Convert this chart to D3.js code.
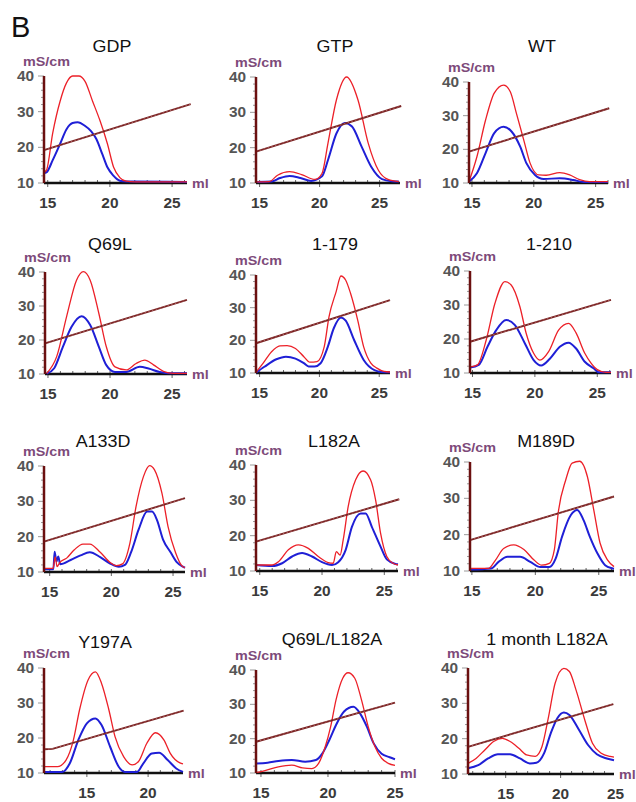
<!DOCTYPE html>
<html>
<head>
<meta charset="utf-8">
<script src="https://cdn.jsdelivr.net/npm/d3@7"></script>
<style>
  body { margin: 0; background: #fff; }
  text { font-family: "Liberation Sans", Arial, sans-serif; }
</style>
</head>
<body>
<div id="chart"></div>
<script>
// panel names, in reading order
const titles = ['GDP', 'GTP', 'WT', 'Q69L', '1-179', '1-210',
  'A133D', 'L182A', 'M189D', 'Y197A', 'Q69L/L182A', '1 month L182A'];

// x range (ml) of each panel
const xDomains = [
  [14.7, 26.2], [14.7, 26.7], [14.76, 26.0],
  [14.76, 26.2], [14.7, 25.9], [14.8, 26.1],
  [14.54, 25.97], [14.7, 26.1], [14.85, 26.2],
  [11.5, 22.85], [14.63, 25], [11.57, 24.86]
];

const xTickValues = [
  [15, 20, 25], [15, 20, 25], [15, 20, 25],
  [15, 20, 25], [15, 20, 25], [15, 20, 25],
  [15, 20, 25], [15, 20, 25], [15, 20, 25],
  [15, 20], [15, 20, 25], [15, 20, 25]
];
const yTickValues = [10, 20, 30, 40];

// conductivity gradient, [ml, mS/cm]
const gradients = [
  [[14.7, 19.2], [26.5, 32.1]],
  [[14.7, 18.9], [26.8, 31.8]],
  [[14.76, 19.3], [26.1, 32.2]],
  [[14.76, 19.0], [26.2, 31.8]],
  [[14.7, 19.1], [25.9, 32.3]],
  [[14.8, 19.2], [26.1, 31.5]],
  [[14.54, 18.6], [25.97, 30.9]],
  [[14.7, 18.3], [26.2, 30.3]],
  [[14.85, 18.5], [26.2, 30.5]],
  [[11.5, 16.8], [12.2, 16.9], [22.9, 27.8]],
  [[14.63, 19.1], [25.0, 30.5]],
  [[11.57, 17.7], [24.8, 29.8]]
];

// red trace
const redCurves = [
  [[14.7, 13], [14.9, 13.6], [15.4, 24], [16, 33], [16.5, 38], [17, 40], [17.5, 40], [18, 38.5], [18.6, 33], [19.2, 27.5], [19.8, 21], [20.3, 14.4], [20.8, 11.5], [21.3, 10.5], [22, 10.3], [26.2, 10.3]],
  [[14.7, 10.3], [15.8, 10.4], [16.5, 12.2], [17.5, 13.2], [18.5, 12.4], [19.6, 11.0], [20.2, 12.7], [20.7, 21.3], [21.4, 33.5], [22.25, 40], [23.2, 33.5], [24.05, 21.3], [24.9, 13.6], [25.7, 11], [26.6, 10.4]],
  [[14.76, 10.4], [15.4, 17.8], [16.1, 28.7], [16.8, 36.7], [17.56, 39.1], [18.1, 37.1], [18.6, 30.6], [19.2, 22.6], [19.7, 15.9], [20.4, 12.4], [21, 12.3], [22.1, 13.1], [22.9, 12.4], [23.7, 11], [24.5, 10.4], [26, 10.4]],
  [[14.9, 10.2], [15.7, 15.1], [16.5, 26.9], [17.3, 37.6], [17.85, 40.1], [18.4, 37.6], [19.1, 27.8], [19.7, 18], [20.4, 12.1], [21.3, 11.2], [22.1, 13.1], [22.8, 14.1], [23.5, 12.7], [24.3, 10.8], [25.1, 10.2], [26.2, 10.2]],
  [[14.7, 10.2], [15.3, 13], [16, 16.5], [16.7, 18.3], [17.3, 18.4], [18, 17.5], [18.7, 15], [19.2, 13.3], [19.8, 13.5], [20.4, 18], [20.8, 27.2], [21.4, 34.9], [21.8, 39.7], [22.2, 38.4], [22.6, 34.4], [23.2, 26.2], [23.7, 18], [24.3, 13], [24.8, 11.5], [25.4, 10.5], [25.9, 10.3]],
  [[14.8, 11.8], [15.4, 12.4], [16.1, 19.7], [16.8, 30.5], [17.6, 36.9], [18.1, 35.9], [18.8, 29.5], [19.3, 21.7], [19.9, 15.8], [20.4, 13.8], [21.1, 16.3], [21.9, 22.6], [22.7, 24.6], [23.3, 21.8], [24, 15.8], [24.5, 12.9], [25, 11], [25.7, 10.2], [26.1, 10.2]],
  [[14.54, 11], [15.27, 11], [15.45, 14.3], [15.6, 11.5], [15.8, 12.6], [16.4, 14], [17, 16.3], [17.7, 17.9], [18.25, 17.9], [19.1, 15.6], [19.9, 12.7], [20.4, 11.8], [20.9, 12.3], [21.5, 18.1], [22.0, 28.5], [22.6, 37], [23.1, 40.1], [23.5, 38.9], [24.1, 32.3], [24.6, 22.8], [25.2, 15.5], [25.7, 11.8], [25.97, 11.2]],
  [[14.7, 11.7], [16.0, 11.7], [16.5, 12.6], [17.3, 16], [18.1, 17.4], [18.9, 16.4], [19.7, 14.1], [20.5, 12.4], [20.9, 12.2], [21.15, 15.5], [21.45, 14.5], [21.7, 18.8], [22.1, 28.2], [22.7, 35.8], [23.3, 38.3], [23.9, 35.8], [24.3, 30.1], [24.7, 20.7], [25.2, 14.1], [25.7, 12.2], [26.1, 11.7]],
  [[14.85, 10.7], [16.3, 10.7], [16.86, 13], [17.5, 16.2], [18.3, 17.2], [19.1, 15.9], [19.9, 13], [20.5, 11.6], [21.1, 12.1], [21.5, 15.9], [21.8, 25.9], [22.4, 35.1], [22.9, 39.7], [23.5, 40.2], [24.1, 36], [24.6, 26.9], [25.1, 17.7], [25.7, 13], [26.2, 11.2]],
  [[11.5, 11.8], [12.6, 11.8], [13.3, 13.7], [13.9, 19.4], [14.4, 28], [15.1, 36.6], [15.7, 38.9], [16.2, 35.6], [16.8, 28], [17.3, 20.4], [18, 14.7], [18.7, 12.3], [19.2, 13.2], [19.9, 18.5], [20.6, 21.5], [21.3, 19.4], [21.8, 15.7], [22.6, 12.9], [22.85, 12.6]],
  [[14.63, 10.1], [15.3, 10.7], [16.3, 11.8], [17.3, 12.3], [18.1, 11.5], [18.8, 11.3], [19.3, 12.8], [19.8, 17.7], [20.2, 23.5], [20.6, 31.3], [21.1, 37.6], [21.5, 39.2], [22, 37.6], [22.5, 31.3], [23, 23.5], [23.5, 17.7], [24, 14.3], [24.5, 12.8], [25, 12.2]],
  [[11.57, 13], [12.3, 14.4], [13.1, 16.8], [13.9, 19.2], [14.7, 20.1], [15.4, 19.2], [16.2, 17.3], [16.9, 15.4], [17.7, 15], [18.3, 17.7], [18.9, 26.2], [19.5, 35.7], [20.3, 39.9], [20.8, 39], [21.4, 33.8], [22.2, 25.3], [22.9, 18.7], [23.7, 15.9], [24.5, 15], [24.86, 14.8]]
];

// blue trace
const blueCurves = [
  [[14.7, 12.8], [14.9, 13], [15.4, 16.4], [16, 21], [16.5, 25], [17, 26.8], [17.4, 27], [18, 26], [18.5, 24.5], [18.9, 22.4], [19.4, 18], [19.8, 14.4], [20.3, 12], [20.6, 11], [21, 10.5], [22, 10.4], [26.2, 10.3]],
  [[14.7, 10.3], [16.0, 10.4], [16.7, 11.4], [17.5, 12], [18.4, 11.4], [19.3, 10.6], [20.2, 11.9], [20.7, 16.5], [21.4, 24], [22.1, 27], [22.7, 26], [23.5, 20.3], [24.3, 14.6], [25.2, 11.1], [26, 10.5], [26.6, 10.4]],
  [[14.76, 10.4], [15.4, 12.9], [16.1, 18.9], [16.8, 24.8], [17.56, 26.7], [18.2, 25.3], [18.9, 20.8], [19.4, 15.9], [20.1, 12.4], [20.8, 11.2], [22.1, 11.4], [23.2, 10.9], [24, 10.3], [26, 10.3]],
  [[14.9, 10.1], [15.5, 11.7], [16.2, 18], [16.9, 23.9], [17.7, 27], [18.4, 24.4], [19.1, 18], [19.7, 12.6], [20.4, 10.6], [21.3, 10.6], [22.4, 12.1], [23.1, 11.6], [24, 10.6], [24.8, 10.2], [26.2, 10.2]],
  [[14.7, 10.1], [15.4, 11.9], [16.4, 14.2], [17.2, 15], [18, 14.4], [18.7, 13], [19.1, 12], [19.6, 12], [20.1, 13], [20.7, 18], [21.2, 23.7], [21.8, 27], [22.2, 26], [22.9, 20.1], [23.7, 14], [24.6, 10.9], [25.4, 10.2], [25.9, 10.2]],
  [[14.8, 11.6], [15.5, 12.4], [16.2, 17.7], [16.9, 22.6], [17.7, 25.6], [18.4, 24.1], [19.2, 18.7], [19.9, 13.8], [20.5, 12.2], [21.2, 14.2], [22, 17.7], [22.7, 18.9], [23.3, 17.2], [24, 13.3], [24.7, 11.4], [25.1, 10.2], [26.1, 10.2]],
  [[14.54, 10.8], [15.3, 10.8], [15.4, 15.7], [15.55, 13], [15.7, 14.4], [15.85, 12.2], [16.7, 13.4], [17.5, 14.7], [18.25, 15.6], [19.1, 14.2], [19.9, 12.4], [20.6, 11.5], [21.1, 12], [21.6, 15.6], [22.2, 21.9], [22.9, 27.1], [23.3, 27.1], [23.7, 24.7], [24.2, 19.1], [24.8, 15.6], [25.3, 12.8], [25.8, 11.5], [25.97, 11.2]],
  [[14.7, 11.7], [16.0, 11.4], [16.8, 12.2], [17.6, 14.1], [18.4, 15.1], [19.2, 14.1], [20, 12.5], [20.8, 11.7], [21.3, 12.5], [21.9, 16], [22.4, 22.5], [23.1, 26.3], [23.5, 26.3], [24, 22.5], [24.7, 16.9], [25.2, 13.3], [25.9, 12], [26.1, 11.9]],
  [[14.85, 10.4], [16.5, 10.7], [17.1, 12.5], [17.8, 13.9], [18.8, 13.9], [19.6, 12.5], [20.4, 11.1], [21.1, 11.1], [21.6, 13.4], [22.1, 19.4], [22.8, 25.4], [23.3, 26.8], [23.8, 24], [24.3, 19.4], [24.9, 14.8], [25.5, 11.6], [26.1, 10.7], [26.2, 10.6]],
  [[11.5, 10.3], [13.0, 10.3], [13.6, 12.7], [14.3, 19.4], [15, 24.2], [15.7, 25.6], [16.2, 23.7], [16.9, 17.5], [17.6, 11.8], [18.1, 10.3], [19.1, 10.3], [19.6, 12.7], [20.3, 15.6], [20.9, 15.8], [21.6, 13.7], [22.3, 11.3], [22.85, 10.3]],
  [[14.63, 12.8], [15.5, 13], [16.3, 13.5], [17.3, 13.8], [18.3, 13.3], [19.1, 13.8], [19.6, 15.8], [20.1, 19.6], [20.6, 24], [21.2, 27.9], [21.9, 29.3], [22.4, 27.3], [22.9, 23.5], [23.4, 18.7], [24, 15.6], [24.6, 14.6], [25, 14]],
  [[11.57, 11.6], [12.5, 12.5], [13.4, 14.4], [14.3, 15.6], [15.4, 15.6], [16.3, 14.4], [17.2, 13], [17.8, 13.2], [18.5, 15.9], [19.1, 21.5], [19.7, 25.8], [20.3, 27.4], [20.8, 26.7], [21.6, 22.9], [22.5, 18.2], [23.3, 15.6], [24.2, 14.4], [24.86, 13.9]]
];

// ---- layout (pixels) ----
const width = 636, height = 802;
// left / right ends of the x axis, y of the 40 and 10 ticks, title centre and baseline
const frames = [
  { l: 44, r: 187, t: 76, b: 183, tx: 112, ty: 52 },
  { l: 256, r: 400, t: 77, b: 183, tx: 335, ty: 52 },
  { l: 469, r: 608, t: 82, b: 183, tx: 542, ty: 52 },
  { l: 45, r: 187, t: 272, b: 374, tx: 110, ty: 250 },
  { l: 256, r: 390, t: 275, b: 373, tx: 335, ty: 250 },
  { l: 470, r: 611, t: 271, b: 373, tx: 549, ty: 250 },
  { l: 44, r: 185, t: 466, b: 572, tx: 103, ty: 447 },
  { l: 256, r: 398, t: 465, b: 571, tx: 334, ty: 447 },
  { l: 470, r: 614, t: 462, b: 571, tx: 546, ty: 447 },
  { l: 44, r: 183, t: 668, b: 773, tx: 105, ty: 648 },
  { l: 256, r: 395, t: 670, b: 773, tx: 332, ty: 645 },
  { l: 468, r: 614, t: 668, b: 774, tx: 547, ty: 645 }
];

const svg = d3.select('#chart')
  .append('svg')
  .attr('width', width)
  .attr('height', height);

svg.append('text')
  .attr('x', 11).attr('y', 37)
  .attr('font-size', 29)
  .attr('fill', '#111')
  .text('B');

function stretched(g, x, y, sx) {
  return g.append('text').attr('transform', `translate(${x},${y}) scale(${sx},1)`);
}

titles.forEach((title, i) => {
  const f = frames[i];
  const g = svg.append('g');

  const x = d3.scaleLinear().domain(xDomains[i]).range([f.l, f.r]);
  const y = d3.scaleLinear().domain([10, 40]).range([f.b, f.t]);

  // title
  stretched(g, f.tx, f.ty, 1.12)
    .attr('text-anchor', 'middle')
    .attr('font-size', 16)
    .attr('fill', '#111')
    .text(title);

  // units
  stretched(g, f.l - 21, f.t - 10, 1.15)
    .attr('font-size', 12.5)
    .attr('font-weight', 'bold')
    .attr('fill', '#7d4a7a')
    .text('mS/cm');
  stretched(g, f.r + 5, f.b + 5, 1.1)
    .attr('font-size', 13)
    .attr('font-weight', 'bold')
    .attr('fill', '#7d4a7a')
    .text('ml');

  // y axis: minor ticks every 2, labels on 10s
  const minor = d3.range(10, 40.1, 2);
  g.append('g').selectAll('line')
    .data(minor)
    .join('line')
      .attr('x1', d => f.l - (d % 10 === 0 ? 6 : 3))
      .attr('x2', f.l)
      .attr('y1', d => y(d)).attr('y2', d => y(d))
      .attr('stroke', '#9a9a9a')
      .attr('stroke-width', 1);
  g.append('g').selectAll('text')
    .data(yTickValues)
    .join('text')
      .attr('transform', d => `translate(${f.l - 10},${y(d) + 5}) scale(1.1,1)`)
      .attr('text-anchor', 'end')
      .attr('font-size', 14)
      .attr('font-weight', 'bold')
      .attr('fill', '#555')
      .text(d => d);

  // x axis ticks every ml
  const xmin = Math.ceil(xDomains[i][0]), xmax = Math.floor(xDomains[i][1]);
  g.append('g').selectAll('line')
    .data(d3.range(xmin, xmax + 1))
    .join('line')
      .attr('x1', d => x(d)).attr('x2', d => x(d))
      .attr('y1', f.b - 3)
      .attr('y2', d => f.b + (d % 5 === 0 ? 4 : 1))
      .attr('stroke', '#666')
      .attr('stroke-width', 1);
  g.append('g').selectAll('text')
    .data(xTickValues[i])
    .join('text')
      .attr('transform', d => `translate(${x(d)},${f.b + 25}) scale(1.1,1)`)
      .attr('text-anchor', 'middle')
      .attr('font-size', 14)
      .attr('font-weight', 'bold')
      .attr('fill', '#3a3a3a')
      .text(d => d);

  const line = d3.line()
    .x(d => x(d[0]))
    .y(d => y(d[1]))
    .curve(d3.curveMonotoneX);

  // x axis line
  g.append('line')
    .attr('x1', f.l).attr('x2', f.r)
    .attr('y1', f.b).attr('y2', f.b)
    .attr('stroke', '#111')
    .attr('stroke-width', 2.5);

  g.append('path')
    .attr('d', line(blueCurves[i]))
    .attr('fill', 'none')
    .attr('stroke', '#1f1fd6')
    .attr('stroke-width', 2);

  g.append('path')
    .attr('d', line(redCurves[i]))
    .attr('fill', 'none')
    .attr('stroke', '#ec2028')
    .attr('stroke-width', 1.3);

  // gradient
  const straight = d3.line().x(d => x(d[0])).y(d => y(d[1]));
  g.append('path')
    .attr('d', straight(gradients[i]))
    .attr('fill', 'none')
    .attr('stroke', '#7a2222')
    .attr('stroke-width', 1.9);
  g.append('path')
    .attr('d', straight(gradients[i]))
    .attr('fill', 'none')
    .attr('stroke', '#c08080')
    .attr('stroke-width', 0.7)
    .attr('stroke-dasharray', '1.5,2.5');

  // y axis line
  g.append('line')
    .attr('x1', f.l).attr('x2', f.l)
    .attr('y1', f.t).attr('y2', f.b)
    .attr('stroke', '#6b1010')
    .attr('stroke-width', 2.5);
});
</script>
</body>
</html>
